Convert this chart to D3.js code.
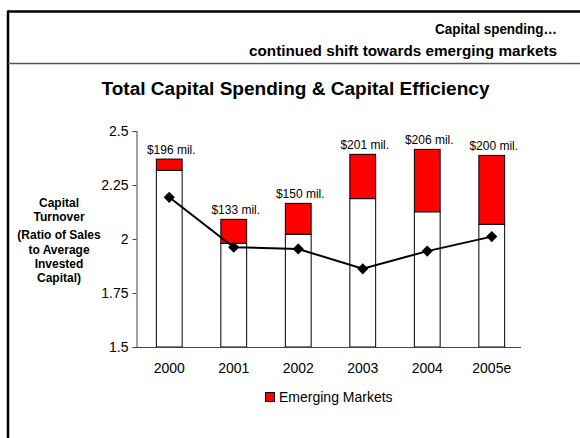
<!DOCTYPE html>
<html>
<head>
<meta charset="utf-8">
<script src="https://cdn.jsdelivr.net/npm/d3@7"></script>
<style>
  body { margin: 0; background: #fff; }
  svg { display: block; font-family: "Liberation Sans", Arial, sans-serif; }
</style>
</head>
<body>
<div class="chart"></div>
<script>
// Chart data
var years = ["2000", "2001", "2002", "2003", "2004", "2005e"];
var otherTop = [2.318, 1.980, 2.022, 2.187, 2.126, 2.068];   // top of white part
var totalTop = [2.370, 2.091, 2.165, 2.392, 2.415, 2.387];   // top of red part
var turnover = [2.193, 1.962, 1.954, 1.862, 1.944, 2.011];
var spendLabels = ["$196 mil.", "$133 mil.", "$150 mil.", "$201 mil.", "$206 mil.", "$200 mil."];
var yTicks = [1.5, 1.75, 2, 2.25, 2.5];
var yTickLabels = ["1.5", "1.75", "2", "2.25", "2.5"];

var width = 580;
var height = 438;

var svg = d3.select(".chart")
  .append("svg")
  .attr("width", width)
  .attr("height", height);

// Slide frame
svg.append("line")
  .attr("x1", 8).attr("x2", width).attr("y1", 11.5).attr("y2", 11.5)
  .attr("stroke", "#000").attr("stroke-width", 2.5);
svg.append("line")
  .attr("x1", 8).attr("x2", 8).attr("y1", 10.5).attr("y2", height)
  .attr("stroke", "#000").attr("stroke-width", 2.5);
svg.append("line")
  .attr("x1", 8).attr("x2", width).attr("y1", 63.5).attr("y2", 63.5)
  .attr("stroke", "#555").attr("stroke-width", 1.5);

// Header
svg.append("text")
  .attr("x", 557).attr("y", 34)
  .attr("text-anchor", "end")
  .attr("textLength", 122)
  .attr("lengthAdjust", "spacingAndGlyphs")
  .style("font-size", "15px").style("font-weight", "bold")
  .text("Capital spending…");
svg.append("text")
  .attr("x", 557).attr("y", 56)
  .attr("text-anchor", "end")
  .attr("textLength", 308)
  .attr("lengthAdjust", "spacingAndGlyphs")
  .style("font-size", "15px").style("font-weight", "bold")
  .text("continued shift towards emerging markets");

// Chart title
svg.append("text")
  .attr("x", 295.5).attr("y", 95)
  .attr("text-anchor", "middle")
  .attr("textLength", 388)
  .attr("lengthAdjust", "spacingAndGlyphs")
  .style("font-size", "18px").style("font-weight", "bold")
  .text("Total Capital Spending & Capital Efficiency");

// Scales
var x = d3.scaleBand()
  .domain(years)
  .range([137, 524])
  .paddingInner(0.6)
  .paddingOuter(0.3);

var y = d3.scaleLinear()
  .domain([1.5, 2.5])
  .range([347, 131]);

// Bars: white part then red part
var bars = svg.append("g");
bars.selectAll(".base")
  .data(years)
  .enter().append("rect")
  .attr("x", function (d) { return x(d); })
  .attr("y", function (d, i) { return y(otherTop[i]); })
  .attr("width", x.bandwidth())
  .attr("height", function (d, i) { return y(1.5) - y(otherTop[i]); })
  .attr("fill", "#fff")
  .attr("stroke", "#000")
  .attr("stroke-width", 1);

bars.selectAll(".em")
  .data(years)
  .enter().append("rect")
  .attr("x", function (d) { return x(d); })
  .attr("y", function (d, i) { return y(totalTop[i]); })
  .attr("width", x.bandwidth())
  .attr("height", function (d, i) { return y(otherTop[i]) - y(totalTop[i]); })
  .attr("fill", "#ff0000")
  .attr("stroke", "#000")
  .attr("stroke-width", 1);

// Spending labels
svg.selectAll(".lbl")
  .data(years)
  .enter().append("text")
  .attr("x", function (d) { return x(d) + x.bandwidth() / 2 + 2; })
  .attr("y", function (d, i) { return y(totalTop[i]) - 5; })
  .attr("text-anchor", "middle")
  .style("font-size", "12px")
  .text(function (d, i) { return spendLabels[i]; });

// Y axis
var yAxis = svg.append("g")
  .attr("transform", "translate(136.5,0)")
  .call(d3.axisLeft(y).tickValues(yTicks).tickSize(4).tickPadding(4)
    .tickFormat(function (d, i) { return yTickLabels[i]; }));
yAxis.select(".domain").attr("stroke", "#444");
yAxis.selectAll(".tick line").attr("stroke", "#444");
yAxis.selectAll("text")
  .style("font-size", "14px")
  .style("font-family", "'Liberation Sans', Arial, sans-serif")
  .attr("fill", "#000");

// X axis
var xAxis = svg.append("g")
  .attr("transform", "translate(0,347.5)")
  .call(d3.axisBottom(x).tickSize(0).tickPadding(16));
xAxis.select(".domain").attr("d", "M136,0H521").attr("stroke", "#444");
xAxis.selectAll("text")
  .style("font-size", "14px")
  .style("font-family", "'Liberation Sans', Arial, sans-serif")
  .attr("fill", "#000");

// Turnover line
var line = d3.line()
  .x(function (d, i) { return x(years[i]) + x.bandwidth() / 2; })
  .y(function (d) { return y(d); });

svg.append("path")
  .datum(turnover)
  .attr("d", line)
  .attr("fill", "none")
  .attr("stroke", "#000")
  .attr("stroke-width", 2);

svg.selectAll(".marker")
  .data(turnover)
  .enter().append("path")
  .attr("d", d3.symbol().type(d3.symbolSquare).size(62))
  .attr("transform", function (d, i) {
    return "translate(" + (x(years[i]) + x.bandwidth() / 2) + "," + y(d) + ") rotate(45)";
  })
  .attr("fill", "#000");

// Y axis label
var yLabel = [
  { t: "Capital", y: 207 },
  { t: "Turnover", y: 221 },
  { t: "(Ratio of Sales", y: 239 },
  { t: "to Average", y: 253.5 },
  { t: "Invested", y: 268 },
  { t: "Capital)", y: 282 }
];
svg.selectAll(".ylab")
  .data(yLabel)
  .enter().append("text")
  .attr("x", 59)
  .attr("y", function (d) { return d.y; })
  .attr("text-anchor", "middle")
  .style("font-size", "12px")
  .style("font-weight", "bold")
  .text(function (d) { return d.t; });

// Legend
svg.append("rect")
  .attr("x", 265.5).attr("y", 392.5)
  .attr("width", 9).attr("height", 9)
  .attr("fill", "#ff0000")
  .attr("stroke", "#000");
svg.append("text")
  .attr("x", 279).attr("y", 401.5)
  .style("font-size", "14px")
  .text("Emerging Markets");
</script>
</body>
</html>
